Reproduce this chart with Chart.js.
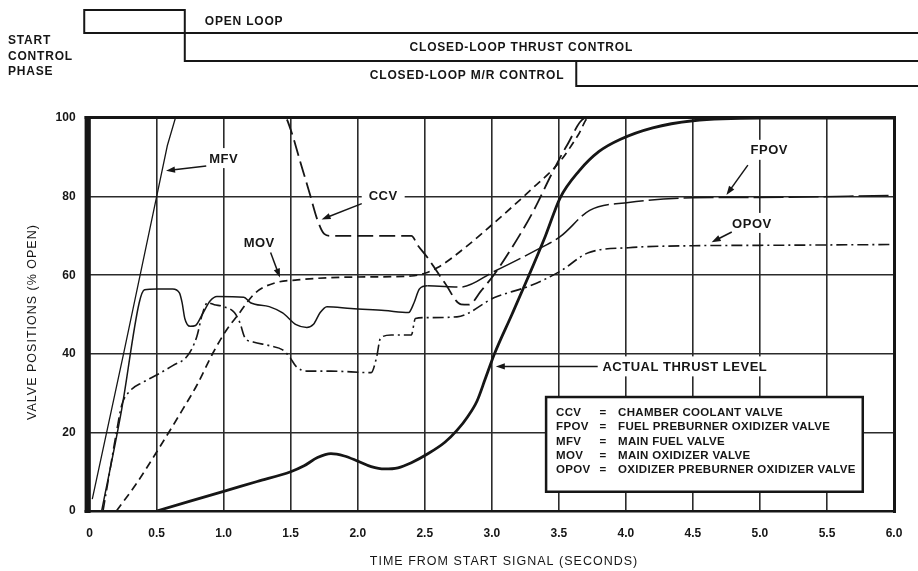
<!DOCTYPE html>
<html><head><meta charset="utf-8">
<script src="https://cdn.jsdelivr.net/npm/chart.js@4/dist/chart.umd.min.js"></script>
<style>html,body{margin:0;padding:0;background:#fff;}canvas{display:block;}</style>
</head><body>
<canvas id="c" width="918" height="571"></canvas>
<script>
// ---------- data ----------
const xTickLabels = ['0','0.5','1.0','1.5','2.0','2.5','3.0','3.5','4.0','4.5','5.0','5.5','6.0'];
const yTickLabels = ['0','20','40','60','80','100'];
const xTitle = 'TIME FROM START SIGNAL (SECONDS)';
const yTitle = 'VALVE POSITIONS (% OPEN)';

// [time (s), position (% open)]
const MFV = [[0.02,3],[0.25,39.5],[0.5,80],[0.58,93],[0.64,100],[6.0,100]];
const FPOV = [[0.09,0],[0.24,26],[0.37,53],[0.41,56.3],[0.5,56.5],[0.62,56.5],[0.67,55.5],[0.69,53],[0.71,49],[0.75,47],
  [0.79,47.2],[0.84,50],[0.9,53.5],[0.95,54.6],[1.15,54.4],[1.2,53],[1.34,52],[1.44,50.4],[1.54,47.4],[1.62,46.7],
  [1.67,47.5],[1.72,50.5],[1.77,52],[1.95,51.5],[2.2,51],[2.38,50.5],[2.42,53],[2.46,56.5],[2.52,57.3],[2.77,57],
  [3.02,61],[3.31,66],[3.51,69.8],[3.73,76.5],[4.02,78.5],[4.5,79.7],[5.0,79.8],[6.0,80.3]];
const OPOV = [[0.1,0],[0.14,8],[0.2,20],[0.24,27],[0.3,30.5],[0.4,32.8],[0.5,34.6],[0.62,37],[0.73,39.5],[0.8,44.4],
  [0.84,50],[0.88,53],[0.93,52.5],[1.0,52],[1.08,50.5],[1.12,48],[1.16,44],[1.22,43],[1.35,42],[1.44,41],[1.49,39.3],
  [1.54,36.8],[1.62,35.6],[1.8,35.6],[2.1,35.2],[2.14,39],[2.17,44],[2.25,44.8],[2.4,44.8],[2.43,49],[2.5,49.2],
  [2.74,49.4],[3.02,54.3],[3.3,57.5],[3.51,61],[3.72,65.7],[4.02,67],[4.5,67.5],[5.0,67.6],[6.0,67.8]];
const MOV = [[0.2,0],[0.35,7],[0.5,15],[0.69,25.6],[0.8,32],[0.92,40.2],[1.02,46],[1.1,49.6],[1.24,55.6],[1.39,58.1],
  [1.55,58.8],[1.9,59.5],[2.4,59.8],[2.5,60.5],[2.6,62],[2.8,67],[3.02,73.4],[3.3,82],[3.51,89],[3.65,96],[3.72,100],[6.0,100]];
const CCV = [[0,100],[1.46,100],[1.5,97],[1.57,89],[1.64,81],[1.7,74],[1.75,70.5],[1.8,70],[2.4,70],[2.45,67.5],
  [2.52,64.5],[2.65,58],[2.77,52.6],[2.83,52.5],[2.92,56],[3.02,60.3],[3.15,67],[3.31,76.3],[3.45,86],[3.56,93],[3.7,100],[6.0,100]];
const THRUST = [[0.5,0],[0.75,2.5],[1.0,5],[1.25,7.5],[1.5,10],[1.6,11.5],[1.7,13.6],[1.8,14.6],[1.9,14],[2.0,12.7],
  [2.1,11.3],[2.2,10.7],[2.3,11],[2.4,12.3],[2.52,14.5],[2.65,17.5],[2.74,20.5],[2.82,24],[2.89,28],[2.95,33.5],
  [3.02,40],[3.15,50],[3.27,59.4],[3.4,70],[3.51,79.7],[3.65,86.5],[3.8,91.5],[3.96,94.6],[4.2,97.5],[4.5,99.3],
  [5.0,100],[6.0,100]];

const legendAbbr = ['CCV','FPOV','MFV','MOV','OPOV'];
const legendDesc = ['CHAMBER COOLANT VALVE','FUEL PREBURNER OXIDIZER VALVE','MAIN FUEL VALVE','MAIN OXIDIZER VALVE','OXIDIZER PREBURNER OXIDIZER VALVE'];

const phaseRowLabels = ['START','CONTROL','PHASE'];
const phaseNames = ['OPEN LOOP','CLOSED-LOOP THRUST CONTROL','CLOSED-LOOP M/R CONTROL'];
const phaseStarts = [-0.04, 0.71, 3.63];

// ---------- annotation layout (data units) ----------
const notes = [
  {text:'MFV', at:[1.0,89.8], from:[0.87,87.8], to:[0.57,86.6]},
  {text:'CCV', at:[2.19,80.2], from:[2.03,78.2], to:[1.73,74.2]},
  {text:'MOV', at:[1.265,68.4], from:[1.35,65.8], to:[1.42,59.4]},
  {text:'FPOV', at:[5.07,91.9], from:[4.91,88.0], to:[4.75,80.4]},
  {text:'OPOV', at:[4.94,73.3], from:[4.79,71.0], to:[4.64,68.4]},
  {text:'ACTUAL THRUST LEVEL', at:[4.44,36.8], from:[3.79,36.8], to:[3.03,36.8]}
];
const legendBox = {x0:3.405, x1:5.767, y0:29.0, y1:4.9};

const INK = '#161616';
const FONT = '"Liberation Sans", Arial, Helvetica, sans-serif';
const pts = a => a.map(([x,y]) => ({x, y}));

const decor = {
  id:'decor',
  beforeDatasetsDraw(chart){
    const {ctx, scales:{x, y}} = chart;
    ctx.save();
    ctx.font = 'bold 13px ' + FONT;
    ctx.letterSpacing = '0.5px';
    ctx.fillStyle = '#fff';
    notes.forEach(n => {
      const w = ctx.measureText(n.text).width;
      const cx = x.getPixelForValue(n.at[0]), cy = y.getPixelForValue(n.at[1]);
      ctx.fillRect(cx - w/2 - 7, cy - 10, w + 14, 20);
    });
    ctx.restore();
  },
  afterDatasetsDraw(chart){
    const {ctx, chartArea:a, scales:{x, y}} = chart;
    ctx.save();
    // frame
    ctx.fillStyle = INK;
    ctx.fillRect(a.left - 5, a.top - 2, 6, a.bottom - a.top + 4);
    ctx.fillRect(a.left - 5, a.top - 2, a.right - a.left + 7, 3);
    ctx.fillRect(a.right - 1, a.top - 2, 3, a.bottom - a.top + 4);
    ctx.fillRect(a.left - 5, a.bottom - 1, a.right - a.left + 7, 2.5);

    // labels + arrows
    ctx.font = 'bold 13px ' + FONT;
    ctx.letterSpacing = '0.5px';
    ctx.textAlign = 'center';
    ctx.textBaseline = 'middle';
    notes.forEach(n => {
      ctx.fillStyle = INK;
      ctx.fillText(n.text, x.getPixelForValue(n.at[0]), y.getPixelForValue(n.at[1]) + 1);
      const x1 = x.getPixelForValue(n.from[0]), y1 = y.getPixelForValue(n.from[1]);
      const x2 = x.getPixelForValue(n.to[0]), y2 = y.getPixelForValue(n.to[1]);
      const ang = Math.atan2(y2 - y1, x2 - x1);
      ctx.strokeStyle = INK; ctx.lineWidth = 1.5;
      ctx.beginPath(); ctx.moveTo(x1, y1);
      ctx.lineTo(x2 - 6*Math.cos(ang), y2 - 6*Math.sin(ang)); ctx.stroke();
      ctx.beginPath();
      ctx.moveTo(x2, y2);
      ctx.lineTo(x2 - 9*Math.cos(ang) + 3.2*Math.sin(ang), y2 - 9*Math.sin(ang) - 3.2*Math.cos(ang));
      ctx.lineTo(x2 - 9*Math.cos(ang) - 3.2*Math.sin(ang), y2 - 9*Math.sin(ang) + 3.2*Math.cos(ang));
      ctx.closePath(); ctx.fill();
    });

    // legend box
    const bx0 = x.getPixelForValue(legendBox.x0), bx1 = x.getPixelForValue(legendBox.x1);
    const by0 = y.getPixelForValue(legendBox.y0), by1 = y.getPixelForValue(legendBox.y1);
    ctx.fillStyle = '#fff';
    ctx.fillRect(bx0, by0, bx1 - bx0, by1 - by0);
    ctx.strokeStyle = INK; ctx.lineWidth = 2.5;
    ctx.strokeRect(bx0, by0, bx1 - bx0, by1 - by0);
    ctx.fillStyle = INK;
    ctx.font = 'bold 11.5px ' + FONT;
    ctx.letterSpacing = '0.3px';
    ctx.textBaseline = 'middle';
    legendAbbr.forEach((ab, i) => {
      const ty = by0 + 15.5 + i * 14.4;
      ctx.textAlign = 'left';
      ctx.fillText(ab, bx0 + 10, ty);
      ctx.textAlign = 'center';
      ctx.fillText('=', bx0 + 57, ty);
      ctx.textAlign = 'left';
      ctx.fillText(legendDesc[i], bx0 + 72, ty);
    });
    ctx.restore();
  },
  afterDraw(chart){
    const {ctx, chartArea:a, scales:{x}} = chart;
    const W = chart.width;
    ctx.save();
    ctx.fillStyle = INK; ctx.strokeStyle = INK;
    // axis titles
    ctx.font = '12.5px ' + FONT;
    ctx.letterSpacing = '1px';
    ctx.textAlign = 'center'; ctx.textBaseline = 'middle';
    ctx.fillText(xTitle, 504, 562);
    ctx.save();
    ctx.translate(33, 322); ctx.rotate(-Math.PI/2);
    ctx.fillText(yTitle, 0, 0);
    ctx.restore();

    // control phase diagram
    const p = phaseStarts.map(t => x.getPixelForValue(t));
    ctx.lineWidth = 2;
    ctx.strokeRect(p[0], 10, p[1] - p[0], 23);
    ctx.beginPath();
    ctx.moveTo(p[1], 33); ctx.lineTo(W, 33);
    ctx.moveTo(p[1], 33); ctx.lineTo(p[1], 61); ctx.lineTo(W, 61);
    ctx.moveTo(p[2], 61); ctx.lineTo(p[2], 86); ctx.lineTo(W, 86);
    ctx.stroke();

    ctx.font = 'bold 12px ' + FONT;
    ctx.letterSpacing = '0.8px';
    ctx.textAlign = 'left';
    phaseRowLabels.forEach((t, i) => ctx.fillText(t, 8, 41 + i * 15.5));
    ctx.fillText(phaseNames[0], p[1] + 20, 22);
    ctx.textAlign = 'center';
    ctx.fillText(phaseNames[1], x.getPixelForValue(3.22), 48);
    ctx.textAlign = 'right';
    ctx.fillText(phaseNames[2], p[2] - 12, 76);
    ctx.restore();
  }
};

const line = (label, arr, width, dash, extra) => Object.assign({
  label, data: pts(arr), borderColor: INK, backgroundColor: INK, borderWidth: width,
  borderDash: dash, pointRadius: 0, fill: false, cubicInterpolationMode: 'monotone'
}, extra || {});

new Chart(document.getElementById('c'), {
  type: 'line',
  data: { datasets: [
    line('MFV', MFV, 1.3, [], {cubicInterpolationMode:'default', tension:0}),
    line('FPOV', FPOV, 1.5, [], {segment:{borderDash: c => c.p0.parsed.x >= 2.5 ? [30,5] : undefined}}),
    line('OPOV', OPOV, 1.6, [11,4,2,4]),
    line('MOV', MOV, 1.7, [8,5]),
    line('CCV', CCV, 1.8, [16,6]),
    line('ACTUAL THRUST LEVEL', THRUST, 2.8, [])
  ]},
  options: {
    responsive: false, animation: false, devicePixelRatio: 1,
    layout: { padding: { top: 118, right: 24, left: 0, bottom: 0 } },
    plugins: { legend: { display: false }, tooltip: { enabled: false } },
    scales: {
      x: {
        type: 'linear', min: 0, max: 6,
        afterFit: s => { s.height = 60; },
        grid: { color: '#2b2b2b', lineWidth: 1.6, drawTicks: false },
        border: { display: false },
        ticks: { stepSize: 0.5, padding: 15, color: INK, maxRotation: 0, autoSkip: false,
                 font: { family: FONT, size: 12, weight: 'bold' },
                 callback: (v, i) => xTickLabels[i] }
      },
      y: {
        min: 0, max: 100,
        afterFit: s => { s.width = 89.6; },
        grid: { color: '#2b2b2b', lineWidth: 1.5, drawTicks: false },
        border: { display: false },
        ticks: { stepSize: 20, padding: 14, color: INK,
                 font: { family: FONT, size: 12, weight: 'bold' },
                 callback: (v, i) => yTickLabels[i] }
      }
    }
  },
  plugins: [decor]
});
</script>
</body></html>
